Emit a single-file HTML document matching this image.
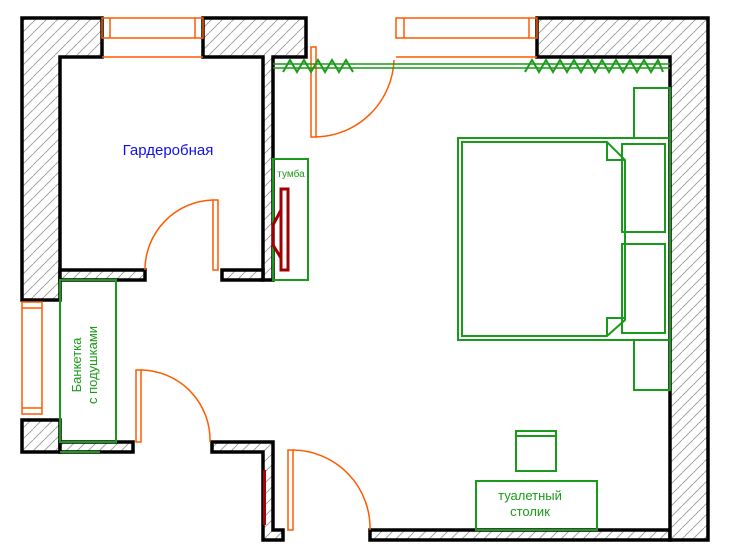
<!DOCTYPE html>
<html><head><meta charset="utf-8"><style>
html,body{margin:0;padding:0;background:#fff;}
svg{display:block;}
text{font-family:"Liberation Sans",sans-serif;}
</style></head><body>
<svg width="730" height="559" viewBox="0 0 730 559" xmlns="http://www.w3.org/2000/svg">
<defs>
<pattern id="h" patternUnits="userSpaceOnUse" width="11" height="11">
<rect width="11" height="11" fill="#fff"/>
<line x1="0" y1="11" x2="11" y2="0" stroke="#999" stroke-width="0.9"/>
</pattern>
</defs>
<g fill="url(#h)" stroke="#000" stroke-width="3.5" stroke-linejoin="miter">
<polygon points="22,18 102,18 102,57 60,57 60,300 22,300"/>
<polygon points="203,18 306,18 306,57 273,57 273,280 263,280 263,57 203,57"/>
<polygon points="60,270 145,270 145,280 60,280"/>
<polygon points="222,270 263,270 263,280 222,280"/>
<polygon points="22,420 60,420 60,452 22,452"/>
<polygon points="60,442 133,442 133,452 60,452"/>
<polygon points="212,442 273,442 273,530 283,530 283,540 263,540 263,452 212,452"/>
<polygon points="370,530 670,530 670,540 370,540"/>
<polygon points="537,18 708,18 708,540 670,540 670,57 537,57"/>
</g>
<rect x="263" y="470" width="3" height="55" fill="#a00"/>
<g fill="none" stroke="#ff5a00" stroke-width="1.5">
<rect x="102" y="18" width="101" height="20"/>
<line x1="110" y1="18" x2="110" y2="38"/><line x1="195" y1="18" x2="195" y2="38"/>
<line x1="102" y1="57" x2="203" y2="57"/>
<rect x="396" y="18" width="141" height="20"/>
<line x1="404" y1="18" x2="404" y2="38"/><line x1="529" y1="18" x2="529" y2="38"/>
<line x1="396" y1="57" x2="537" y2="57"/>
<rect x="22" y="302" width="20" height="112"/>
<line x1="22" y1="308" x2="42" y2="308"/><line x1="22" y1="408" x2="42" y2="408"/>
<rect x="311" y="47" width="5" height="90"/>
<path d="M316,137 A80,80 0 0 0 394,60"/>
<rect x="213" y="200" width="5" height="70"/>
<path d="M213,200 A70,70 0 0 0 145,270"/>
<rect x="136" y="370" width="5" height="72"/>
<path d="M141,370 A70,70 0 0 1 210,442"/>
<rect x="288" y="450" width="5" height="80"/>
<path d="M293,450 A78,78 0 0 1 370,530"/>
</g>
<g fill="none" stroke="#1a9a1a" stroke-width="2">
<line x1="273" y1="64" x2="670" y2="64" stroke-width="1.5"/>
<line x1="273" y1="68" x2="670" y2="68" stroke-width="1.5"/>
<polyline points="283,72 290,60 297,72 304,60 311,72 318,60 325,72 332,60 339,72 346,60 353,72"/>
<polyline points="525,72 532,60 539,72 546,60 553,72 560,60 567,72 574,60 581,72 588,60 595,72 602,60 609,72 616,60 623,72 630,60 637,72 644,60 651,72 658,60 663,72"/>
<rect x="273" y="159" width="35" height="121"/>
<rect x="60" y="280" width="56" height="162"/>
<line x1="60" y1="452" x2="100" y2="452"/>
<rect x="634" y="88" width="36" height="50"/>
<rect x="634" y="340" width="36" height="50"/>
<rect x="458" y="138" width="212" height="202"/>
<polygon points="462,142 607,142 625,160 625,320 607,336 462,336"/>
<polyline points="607,142 607,160 625,160"/>
<polyline points="607,336 607,318 625,318"/>
<rect x="622" y="144" width="43" height="88"/>
<rect x="622" y="244" width="43" height="89"/>
<rect x="516" y="431" width="40" height="40"/>
<line x1="516" y1="436" x2="556" y2="436"/>
<rect x="476" y="481" width="121" height="49"/>
</g>
<line x1="670" y1="88" x2="670" y2="390" stroke="#1a9a1a" stroke-width="2"/>
<g fill="none" stroke="#a00000" stroke-width="3">
<rect x="281" y="189" width="7" height="81"/>
<polyline points="281,210 273,225 273,245 281,258"/>
</g>
<text x="168" y="155" font-size="15" fill="#1010ee" text-anchor="middle">Гардеробная</text>
<text x="291" y="177" font-size="10" fill="#1a9a1a" text-anchor="middle">тумба</text>
<text transform="translate(84,365) rotate(-90)" font-size="13" fill="#1a9a1a" text-anchor="middle"><tspan x="0" y="-3">Банкетка</tspan><tspan x="0" y="13">с подушками</tspan></text>
<text x="530" y="500" font-size="13" fill="#1a9a1a" text-anchor="middle">туалетный</text>
<text x="530" y="516" font-size="13" fill="#1a9a1a" text-anchor="middle">столик</text>
</svg>
</body></html>
